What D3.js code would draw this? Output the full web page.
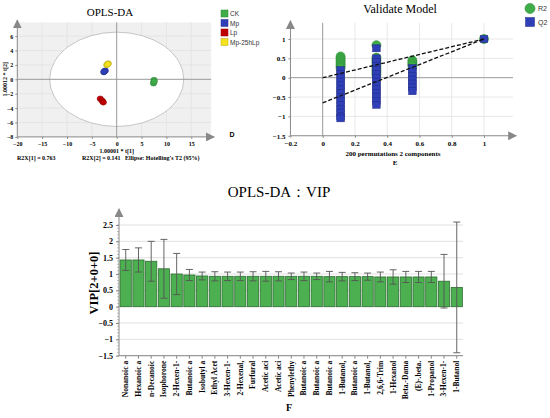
<!DOCTYPE html>
<html>
<head>
<meta charset="utf-8">
<script src="https://cdn.jsdelivr.net/npm/d3@7"></script>
<style>
body { margin: 0; background: #fff; }
text { font-family: "Liberation Serif", "Times New Roman", serif; }
.sans { font-family: "Liberation Sans", Arial, sans-serif; }
</style>
</head>
<body>
<div id="chart"></div>
<script>
// ---- score plot data (OPLS-DA) ----
var groups = ["CK", "Mp", "Lp", "Mp-25hLp"];
var groupColors = ["#3fae49", "#2f3fb8", "#c00000", "#f4e21c"];
var scoreT1 = [7.5, 7.4, 7.55, -2.6, -2.3, -2.5, -3.3, -2.9, -2.7, -2.0, -1.7, -1.8];
var scoreT2 = [-0.1, -0.55, -0.3, 1.0, 1.2, 1.1, -2.7, -3.0, -3.2, 2.0, 2.2, 2.1];
var scoreGroup = [0, 0, 0, 1, 1, 1, 2, 2, 2, 3, 3, 3];

// ---- permutation test data ----
var permX = [0.111, 0.333, 0.556];
var r2Col1 = [0.55, 0.5, 0.45, 0.4, 0.35, 0.3, 0.25];
var r2Col2 = [0.84, 0.52, 0.45, 0.38, 0.3, 0.22, 0.15, 0.08];
var r2Col3 = [0.45, 0.4, 0.35, 0.3];
var q2Col1 = [0.2, 0.1, 0.0, -0.1, -0.2, -0.3, -0.4, -0.5, -0.6, -0.7, -0.8, -0.9, -1.0, -1.05];
var q2Col2 = [0.76, 0.5, 0.4, 0.3, 0.2, 0.1, 0.0, -0.1, -0.2, -0.3, -0.4, -0.5, -0.6, -0.7];
var q2Col3 = [0.25, 0.15, 0.05, -0.05, -0.15, -0.25, -0.35];
var r2Orig = 1.0, q2Orig = 1.0;
var r2Intercept = 0.0, q2Intercept = -0.65;

// ---- VIP data ----
var vipNames = ["Nonanoic a", "Hexanoic a", "n-Decanoic", "Isophorone", "2-Hexen-1-", "Butanoic a",
  "Isobutyl a", "Ethyl Acet", "3-Hexen-1-", "2-Hexenal,", "Furfural", "Acetic aci", "Acetic aci",
  "Phenylethy", "Butanoic a", "Butanoic a", "Butanoic a", "1-Butanol,", "Butanoic a", "1-Butanol,",
  "2,6,6-Trim", "1-Hexanol", "Beta.-Dama", "(E)-.beta.", "1-Propanol", "3-Hexen-1-", "1-Butanol"];
var vipValues = [1.43, 1.43, 1.39, 1.16, 1.0, 0.97, 0.94, 0.93, 0.93, 0.93, 0.93, 0.93, 0.93,
  0.93, 0.93, 0.93, 0.92, 0.92, 0.92, 0.92, 0.91, 0.91, 0.91, 0.91, 0.91, 0.78, 0.59];
var vipErr = [0.32, 0.37, 0.61, 0.9, 0.63, 0.17, 0.12, 0.14, 0.13, 0.13, 0.14, 0.15, 0.14,
  0.1, 0.13, 0.1, 0.16, 0.13, 0.12, 0.11, 0.15, 0.22, 0.17, 0.17, 0.17, 0.82, 2.0];

var svg = d3.select("#chart").append("svg").attr("width", 550).attr("height", 418);

var defs = svg.append("defs");
defs.append("marker").attr("id", "arrow").attr("viewBox", "0 0 10 10")
  .attr("refX", 9).attr("refY", 5).attr("markerWidth", 9).attr("markerHeight", 9)
  .attr("orient", "auto-start-reverse").attr("markerUnits", "userSpaceOnUse")
  .append("path").attr("d", "M0,0 L10,5 L0,10 z").attr("fill", "#888");

// ================= OPLS-DA score plot =================
var sx = d3.scaleLinear().domain([-20, 0]).range([17.3, 116.7]);
var sy = d3.scaleLinear().domain([0, 6]).range([79.3, 36.1]);
var g1 = svg.append("g");

g1.append("text").attr("x", 110).attr("y", 16).attr("text-anchor", "middle")
  .attr("font-size", 11).text("OPLS-DA");

g1.append("rect").attr("x", sx(-20)).attr("y", sy(7.9)).attr("width", sx(19) - sx(-20))
  .attr("height", sy(-8) - sy(7.9)).attr("fill", "#f0f0f0");

[-15, -10, -5, 5, 10, 15].forEach(function(v) {
  g1.append("line").attr("x1", sx(v)).attr("x2", sx(v)).attr("y1", sy(7.9)).attr("y2", sy(-8))
    .attr("stroke", "#dedede").attr("stroke-width", 0.6);
});
[-6, -4, -2, 2, 4, 6].forEach(function(v) {
  g1.append("line").attr("x1", sx(-20)).attr("x2", sx(19)).attr("y1", sy(v)).attr("y2", sy(v))
    .attr("stroke", "#dedede").attr("stroke-width", 0.6);
});

g1.append("ellipse").attr("cx", sx(0)).attr("cy", sy(0))
  .attr("rx", sx(13.5) - sx(0)).attr("ry", sy(0) - sy(6.55))
  .attr("fill", "#fff").attr("stroke", "#b8b8b8").attr("stroke-width", 0.8);

g1.append("line").attr("x1", sx(0)).attr("x2", sx(0)).attr("y1", sy(7.9)).attr("y2", sy(-8))
  .attr("stroke", "#999").attr("stroke-width", 1);
g1.append("line").attr("x1", sx(-20)).attr("x2", sx(19)).attr("y1", sy(0)).attr("y2", sy(0))
  .attr("stroke", "#999").attr("stroke-width", 1);

// axes
g1.append("line").attr("x1", sx(-20)).attr("x2", sx(-20)).attr("y1", sy(-8)).attr("y2", sy(8.2))
  .attr("stroke", "#888").attr("marker-end", "url(#arrow)");
g1.append("line").attr("x1", sx(-20)).attr("x2", sx(19.6)).attr("y1", sy(-8)).attr("y2", sy(-8))
  .attr("stroke", "#888").attr("marker-end", "url(#arrow)");

g1.append("g").attr("transform", "translate(" + sx(-20) + ",0)")
  .call(d3.axisLeft(sy).tickValues([-8, -6, -4, -2, 0, 2, 4, 6]).tickSize(2).tickPadding(2)
    .tickFormat(d3.format("")))
  .call(function(a) {
    a.select(".domain").remove();
    a.selectAll("line").attr("stroke", "#888");
    a.selectAll("text").attr("font-size", 6).attr("font-weight", "bold")
      .attr("font-family", "Liberation Serif, serif");
  });
g1.append("g").attr("transform", "translate(0," + sy(-8) + ")")
  .call(d3.axisBottom(sx).tickValues([-20, -15, -10, -5, 0, 5, 10, 15]).tickSize(2).tickPadding(3)
    .tickFormat(d3.format("")))
  .call(function(a) {
    a.select(".domain").remove();
    a.selectAll("line").attr("stroke", "#888");
    a.selectAll("text").attr("font-size", 6).attr("font-weight", "bold")
      .attr("font-family", "Liberation Serif, serif");
  });

g1.append("text").attr("x", sx(0)).attr("y", 153).attr("text-anchor", "middle")
  .attr("font-size", 6).attr("font-weight", "bold").text("1.00001 * t[1]");
g1.append("text").attr("transform", "translate(7," + sy(0) + ") rotate(-90)")
  .attr("text-anchor", "middle").attr("font-size", 6).attr("font-weight", "bold")
  .text("1.00012 * t[2]");

g1.append("text").attr("x", 17).attr("y", 160).attr("font-size", 6).attr("font-weight", "bold")
  .text("R2X[1] = 0.763");
g1.append("text").attr("x", 82).attr("y", 160).attr("font-size", 6).attr("font-weight", "bold")
  .text("R2X[2] = 0.141");
g1.append("text").attr("x", 125).attr("y", 160).attr("font-size", 6).attr("font-weight", "bold")
  .text("Ellipse: Hotelling's T2 (95%)");
g1.append("text").attr("x", 232).attr("y", 137).attr("text-anchor", "middle")
  .attr("font-size", 7).attr("font-weight", "bold").attr("class", "sans").text("D");

g1.selectAll(".pt").data(scoreT1).enter().append("ellipse")
  .attr("cx", function(d) { return sx(d); })
  .attr("cy", function(d, i) { return sy(scoreT2[i]); })
  .attr("rx", 3.2).attr("ry", 2.8)
  .attr("fill", function(d, i) { return groupColors[scoreGroup[i]]; })
  .attr("stroke", function(d, i) { return d3.color(groupColors[scoreGroup[i]]).darker(1); })
  .attr("stroke-width", 0.5);

var leg1 = g1.selectAll(".leg").data(groups).enter().append("g")
  .attr("transform", function(d, i) { return "translate(221," + (10 + i * 9.5) + ")"; });
leg1.append("rect").attr("width", 7).attr("height", 7)
  .attr("fill", function(d, i) { return groupColors[i]; })
  .attr("stroke", function(d, i) { return d3.color(groupColors[i]).darker(0.8); }).attr("stroke-width", 0.5);
leg1.append("text").attr("x", 9).attr("y", 6).attr("font-size", 6.5).attr("class", "sans")
  .attr("fill", "#333").text(function(d) { return d; });

// ================= Validate model =================
var vx = d3.scaleLinear().domain([0, 1]).range([322.7, 484]);
var vy = d3.scaleLinear().domain([0, 1]).range([77.7, 39]);
var g2 = svg.append("g");

g2.append("text").attr("x", 400).attr("y", 13).attr("text-anchor", "middle")
  .attr("font-size", 12).text("Validate Model");

[0.2, 0.4, 0.6, 0.8, 1].forEach(function(v) {
  g2.append("line").attr("x1", vx(v)).attr("x2", vx(v)).attr("y1", vy(1.42)).attr("y2", vy(-1.5))
    .attr("stroke", "#e2e2e2").attr("stroke-width", 0.8);
});
[-1, -0.5, 0.5, 1].forEach(function(v) {
  g2.append("line").attr("x1", vx(-0.2)).attr("x2", vx(1.18)).attr("y1", vy(v)).attr("y2", vy(v))
    .attr("stroke", "#e2e2e2").attr("stroke-width", 0.8);
});
g2.append("line").attr("x1", vx(0)).attr("x2", vx(0)).attr("y1", vy(1.42)).attr("y2", vy(-1.5))
  .attr("stroke", "#999").attr("stroke-width", 1);
g2.append("line").attr("x1", vx(-0.2)).attr("x2", vx(1.18)).attr("y1", vy(0)).attr("y2", vy(0))
  .attr("stroke", "#999").attr("stroke-width", 1);

g2.append("line").attr("x1", vx(-0.2)).attr("x2", vx(-0.2)).attr("y1", vy(-1.5)).attr("y2", vy(1.47))
  .attr("stroke", "#888").attr("marker-end", "url(#arrow)");
g2.append("line").attr("x1", vx(-0.2)).attr("x2", vx(1.2)).attr("y1", vy(-1.5)).attr("y2", vy(-1.5))
  .attr("stroke", "#888").attr("marker-end", "url(#arrow)");

g2.append("g").attr("transform", "translate(" + vx(-0.2) + ",0)")
  .call(d3.axisLeft(vy).tickValues([-1.5, -1, -0.5, 0, 0.5, 1]).tickSize(2).tickPadding(3)
    .tickFormat(d3.format("")))
  .call(function(a) {
    a.select(".domain").remove();
    a.selectAll("line").attr("stroke", "#888");
    a.selectAll("text").attr("font-size", 7).attr("font-weight", "bold")
      .attr("font-family", "Liberation Serif, serif");
  });
g2.append("g").attr("transform", "translate(0," + vy(-1.5) + ")")
  .call(d3.axisBottom(vx).tickValues([-0.2, 0, 0.2, 0.4, 0.6, 0.8, 1]).tickSize(2).tickPadding(3)
    .tickFormat(d3.format("")))
  .call(function(a) {
    a.select(".domain").remove();
    a.selectAll("line").attr("stroke", "#888");
    a.selectAll("text").attr("font-size", 7).attr("font-weight", "bold")
      .attr("font-family", "Liberation Serif, serif");
  });

g2.append("text").attr("x", 393).attr("y", 156).attr("text-anchor", "middle")
  .attr("font-size", 7).attr("font-weight", "bold").text("200 permutations 2 components");
g2.append("text").attr("x", 395).attr("y", 165).attr("text-anchor", "middle")
  .attr("font-size", 7).attr("font-weight", "bold").text("E");

var r2Pts = [], q2Pts = [];
[r2Col1, r2Col2, r2Col3].forEach(function(col, c) {
  col.forEach(function(v) { r2Pts.push([permX[c], v]); });
});
r2Pts.push([1, r2Orig]);
[q2Col1, q2Col2, q2Col3].forEach(function(col, c) {
  col.forEach(function(v) { q2Pts.push([permX[c], v]); });
});
q2Pts.push([1, q2Orig]);

g2.selectAll(".r2").data(r2Pts).enter().append("circle")
  .attr("cx", function(d) { return vx(d[0]); }).attr("cy", function(d) { return vy(d[1]); })
  .attr("r", 4.5).attr("fill", "#3fae49").attr("stroke", "#2c8a35").attr("stroke-width", 0.6);
g2.selectAll(".q2").data(q2Pts).enter().append("rect")
  .attr("x", function(d) { return vx(d[0]) - 3.8; }).attr("y", function(d) { return vy(d[1]) - 3.5; })
  .attr("width", 7.6).attr("height", 7).attr("fill", "#2f3fb8")
  .attr("stroke", "#1f2a80").attr("stroke-width", 0.5);

g2.append("line").attr("x1", vx(0)).attr("y1", vy(r2Intercept)).attr("x2", vx(1)).attr("y2", vy(r2Orig))
  .attr("stroke", "#111").attr("stroke-width", 1.3).attr("stroke-dasharray", "4,2");
g2.append("line").attr("x1", vx(0)).attr("y1", vy(q2Intercept)).attr("x2", vx(1)).attr("y2", vy(q2Orig))
  .attr("stroke", "#111").attr("stroke-width", 1.3).attr("stroke-dasharray", "4,2");

var leg2 = g2.append("g").attr("transform", "translate(530,0)");
leg2.append("circle").attr("cx", 0).attr("cy", 8.5).attr("r", 5).attr("fill", "#3fae49")
  .attr("stroke", "#2c8a35").attr("stroke-width", 0.6);
leg2.append("rect").attr("x", -4.5).attr("y", 17.5).attr("width", 9).attr("height", 9)
  .attr("fill", "#2f3fb8").attr("stroke", "#1f2a80").attr("stroke-width", 0.5);
leg2.append("text").attr("x", 8).attr("y", 11).attr("font-size", 7).attr("class", "sans")
  .attr("fill", "#333").text("R2");
leg2.append("text").attr("x", 8).attr("y", 25).attr("font-size", 7).attr("class", "sans")
  .attr("fill", "#333").text("Q2");

// ================= VIP bar chart =================
var bx = d3.scaleBand().domain(d3.range(vipNames.length)).range([119.5, 463]).paddingInner(0.12).paddingOuter(0.05);
var by = d3.scaleLinear().domain([-1.5, 2.5]).range([355.7, 225]);
var g3 = svg.append("g");

g3.append("text").attr("x", 279).attr("y", 197).attr("text-anchor", "middle")
  .attr("font-size", 15).text("OPLS-DA：VIP");

by.ticks(8).forEach(function(v) {
  g3.append("line").attr("x1", 119).attr("x2", 463).attr("y1", by(v)).attr("y2", by(v))
    .attr("stroke", "#e0e0e0").attr("stroke-width", 1);
});

g3.append("line").attr("x1", 119).attr("x2", 119).attr("y1", by(-1.5)).attr("y2", 209)
  .attr("stroke", "#888").attr("marker-end", "url(#arrow)");
g3.append("line").attr("x1", 119).attr("x2", 463).attr("y1", by(-1.5)).attr("y2", by(-1.5))
  .attr("stroke", "#888");

// minor ticks
d3.range(-15, 26).forEach(function(k) {
  g3.append("line").attr("x1", 117).attr("x2", 119).attr("y1", by(k / 10)).attr("y2", by(k / 10))
    .attr("stroke", "#999").attr("stroke-width", 0.6);
});
g3.append("g").attr("transform", "translate(119,0)")
  .call(d3.axisLeft(by).ticks(8).tickSize(3).tickPadding(3).tickFormat(d3.format("")))
  .call(function(a) {
    a.select(".domain").remove();
    a.selectAll("line").attr("stroke", "#888");
    a.selectAll("text").attr("font-size", 8).attr("font-weight", "bold")
      .attr("font-family", "Liberation Serif, serif");
  });

g3.append("g").attr("transform", "translate(0," + by(-1.5) + ")")
  .call(d3.axisBottom(bx).tickSize(3).tickPadding(3).tickFormat(function(i) { return vipNames[i]; }))
  .call(function(a) {
    a.select(".domain").remove();
    a.selectAll("line").attr("stroke", "#888");
    a.selectAll("text").attr("font-size", 7.6).attr("font-weight", "bold")
      .attr("font-family", "Liberation Serif, serif")
      .attr("text-anchor", "end")
      .attr("transform", "rotate(-90)").attr("y", 0).attr("x", -5).attr("dy", "0.32em");
  });

g3.selectAll(".bar").data(vipValues).enter().append("rect")
  .attr("x", function(d, i) { return bx(i); }).attr("width", bx.bandwidth())
  .attr("y", function(d) { return by(d); }).attr("height", function(d) { return by(0) - by(d); })
  .attr("fill", "#4caf50").attr("stroke", "#2e6f32").attr("stroke-width", 0.8);

var eb = g3.selectAll(".err").data(vipValues).enter().append("g")
  .attr("stroke", "#555").attr("stroke-width", 0.9);
eb.append("line")
  .attr("x1", function(d, i) { return bx(i) + bx.bandwidth() / 2; })
  .attr("x2", function(d, i) { return bx(i) + bx.bandwidth() / 2; })
  .attr("y1", function(d, i) { return by(d - vipErr[i]); })
  .attr("y2", function(d, i) { return by(d + vipErr[i]); });
eb.append("line")
  .attr("x1", function(d, i) { return bx(i) + bx.bandwidth() / 2 - 3.5; })
  .attr("x2", function(d, i) { return bx(i) + bx.bandwidth() / 2 + 3.5; })
  .attr("y1", function(d, i) { return by(d + vipErr[i]); })
  .attr("y2", function(d, i) { return by(d + vipErr[i]); });
eb.append("line")
  .attr("x1", function(d, i) { return bx(i) + bx.bandwidth() / 2 - 3.5; })
  .attr("x2", function(d, i) { return bx(i) + bx.bandwidth() / 2 + 3.5; })
  .attr("y1", function(d, i) { return by(d - vipErr[i]); })
  .attr("y2", function(d, i) { return by(d - vipErr[i]); });

g3.append("text").attr("transform", "translate(98,283) rotate(-90)").attr("text-anchor", "middle")
  .attr("font-size", 12.5).attr("font-weight", "bold").text("VIP[2+0+0]");
g3.append("text").attr("x", 289).attr("y", 411).attr("text-anchor", "middle")
  .attr("font-size", 10).attr("font-weight", "bold").text("F");
</script>
</body>
</html>
